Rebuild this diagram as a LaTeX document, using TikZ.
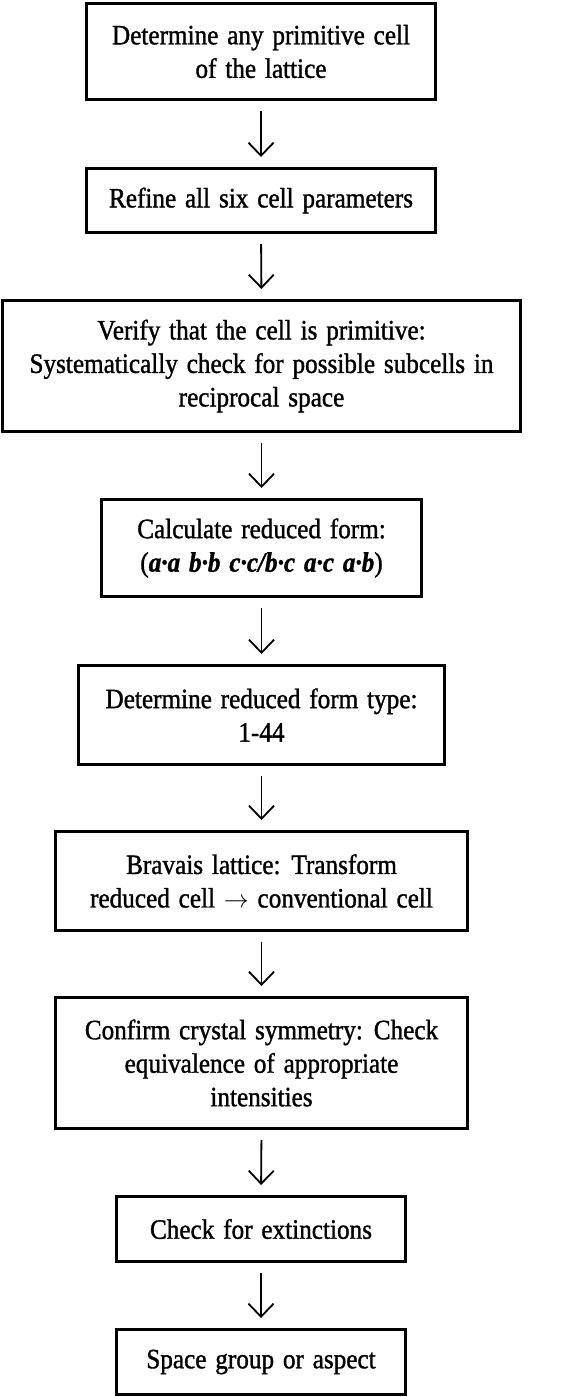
\documentclass[tikz,border=0pt]{standalone}
\usepackage{fontspec}
\setmainfont{Liberation Serif}[FakeStretch=0.9, WordSpace=1.4, FakeBold=1.2]
\usetikzlibrary{arrows.meta}
\begin{document}
\begin{tikzpicture}[x=1pt,y=1pt,
  stepbox/.style={draw, line width=3pt, align=center, inner sep=0pt,
    font=\fontsize{28}{33.5}\selectfont},
  flow/.style={line width=1.8pt, -{Straight Barb[length=13pt,width=25pt,line width=1.8pt]},
    shorten <=10pt, shorten >=10pt}]
\useasboundingbox (0,0) rectangle (567,-1397);
\node[stepbox, minimum width=349pt, minimum height=96pt] (b1) at (261,-51.5)
  {Determine any primitive cell\\of the lattice};
\node[stepbox, minimum width=349pt, minimum height=64pt] (b2) at (261,-200.5)
  {Refine all six cell parameters};
\node[stepbox, minimum width=518pt, minimum height=131pt] (b3) at (261.5,-366)
  {Verify that the cell is primitive:\\Systematically check for possible subcells in\\reciprocal space};
\node[stepbox, minimum width=320pt, minimum height=97pt] (b4) at (261.5,-548)
  {Calculate reduced form:\\(\textbf{\textit{a·a b·b c·c/b·c a·c a·b}})};
\node[stepbox, minimum width=366pt, minimum height=99pt] (b5) at (261.5,-715)
  {Determine reduced form type:\\1-44};
\node[stepbox, minimum width=412pt, minimum height=99pt] (b6) at (261.5,-881)
  {Bravais lattice: Transform\\reduced cell $\rightarrow$ conventional cell};
\node[stepbox, minimum width=412pt, minimum height=131pt] (b7) at (261.5,-1063)
  {Confirm crystal symmetry: Check\\equivalence of appropriate\\intensities};
\node[stepbox, minimum width=289pt, minimum height=65pt] (b8) at (261,-1229)
  {Check for extinctions};
\node[stepbox, minimum width=289pt, minimum height=65pt] (b9) at (261,-1362)
  {Space group or aspect};
\foreach \a/\b in {b1/b2,b2/b3,b3/b4,b4/b5,b5/b6,b6/b7,b7/b8,b8/b9}
  \draw[flow] (\a.south) -- (\b.north);
\end{tikzpicture}
\end{document}
